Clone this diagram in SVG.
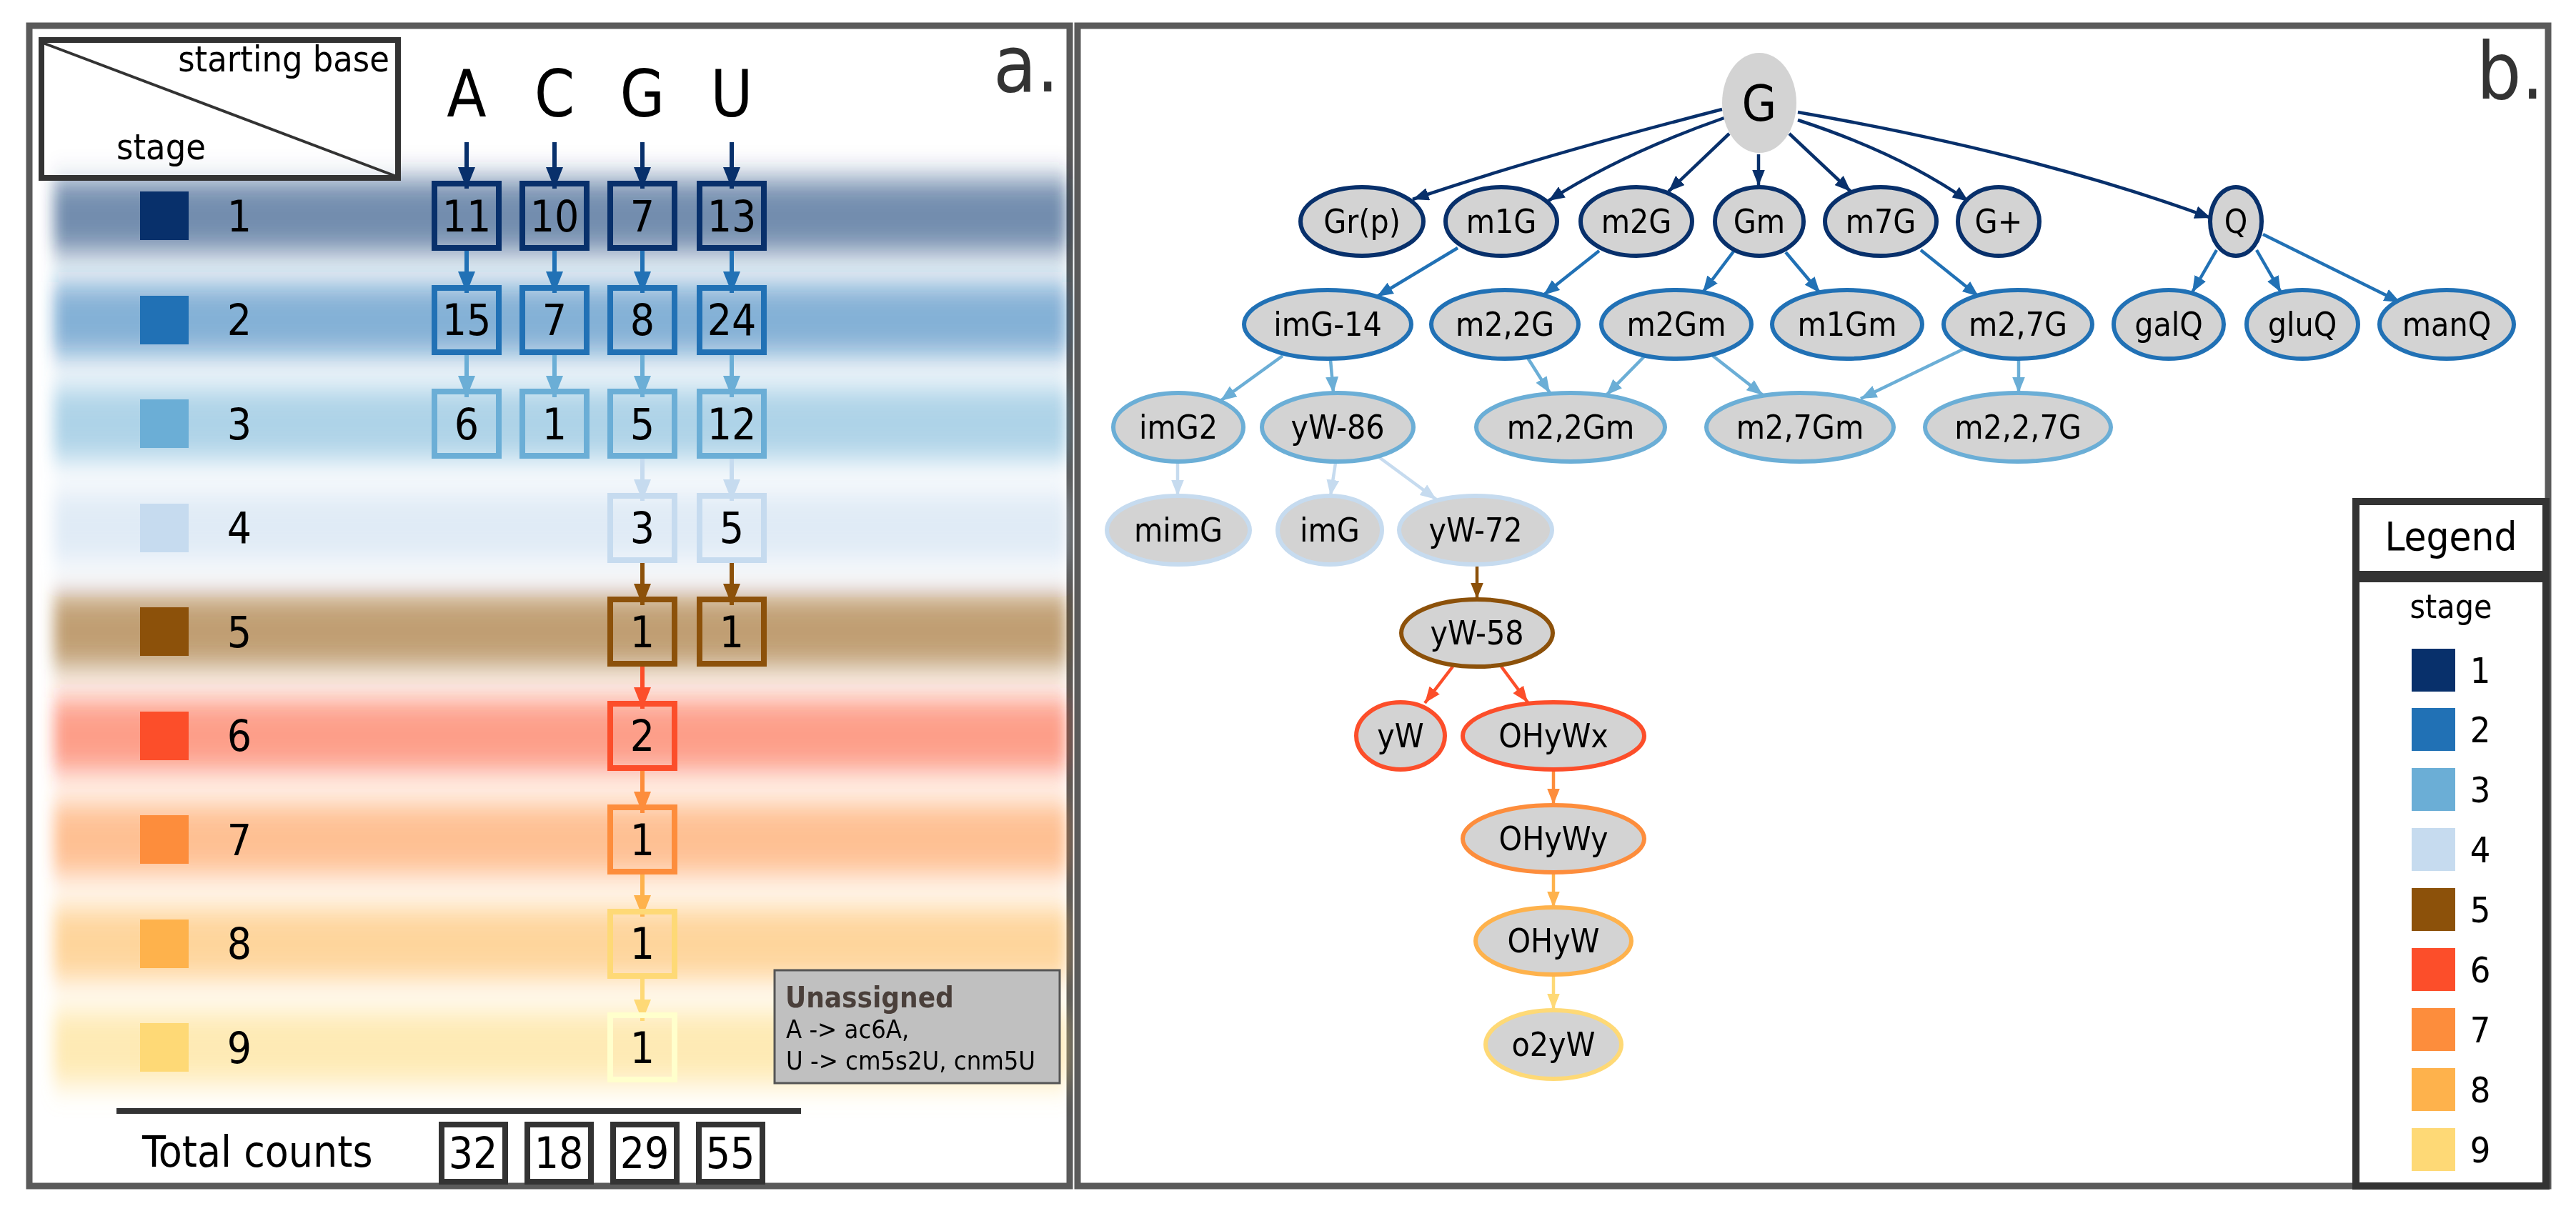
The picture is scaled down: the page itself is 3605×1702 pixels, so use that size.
<svg xmlns="http://www.w3.org/2000/svg" width="3605" height="1702" viewBox="0 0 3605 1702">
<style>
text{font-family:"DejaVu Sans Condensed","DejaVu Sans",sans-serif;font-stretch:condensed;fill:#000}
.frame{fill:#fff;stroke:#5a5a5a;stroke-width:9}
.box{fill:none;stroke-width:8}
.num{font-size:60px;text-anchor:middle}
.lab{font-size:46px;text-anchor:middle}
.nd{fill:#d3d3d3;stroke-width:6}
.ea{fill:none;stroke-width:6}
.eb{fill:none;stroke-width:4.5}
.s1{stroke:#08306b}.s2{stroke:#2171b5}.s3{stroke:#6baed6}.s4{stroke:#c6dbef}.s5{stroke:#8c510a}.s6{stroke:#fc4e2a}.s7{stroke:#fd8d3c}.s8{stroke:#feb24c}.s9{stroke:#fed976}
.m1{marker-end:url(#m1)}.m2{marker-end:url(#m2)}.m3{marker-end:url(#m3)}.m4{marker-end:url(#m4)}.m5{marker-end:url(#m5)}.m6{marker-end:url(#m6)}.m7{marker-end:url(#m7)}.m8{marker-end:url(#m8)}.m9{marker-end:url(#m9)}
</style>
<defs>
<filter id="blur" x="-5%" y="-100%" width="110%" height="300%"><feGaussianBlur stdDeviation="10 20"/></filter>
<marker id="m1" viewBox="0 0 10 8" markerWidth="5" markerHeight="4" refX="10" refY="4" orient="auto"><path d="M0,0L10,4L0,8z" fill="#08306b"/></marker>
<marker id="m2" viewBox="0 0 10 8" markerWidth="5" markerHeight="4" refX="10" refY="4" orient="auto"><path d="M0,0L10,4L0,8z" fill="#2171b5"/></marker>
<marker id="m3" viewBox="0 0 10 8" markerWidth="5" markerHeight="4" refX="10" refY="4" orient="auto"><path d="M0,0L10,4L0,8z" fill="#6baed6"/></marker>
<marker id="m4" viewBox="0 0 10 8" markerWidth="5" markerHeight="4" refX="10" refY="4" orient="auto"><path d="M0,0L10,4L0,8z" fill="#c6dbef"/></marker>
<marker id="m5" viewBox="0 0 10 8" markerWidth="5" markerHeight="4" refX="10" refY="4" orient="auto"><path d="M0,0L10,4L0,8z" fill="#8c510a"/></marker>
<marker id="m6" viewBox="0 0 10 8" markerWidth="5" markerHeight="4" refX="10" refY="4" orient="auto"><path d="M0,0L10,4L0,8z" fill="#fc4e2a"/></marker>
<marker id="m7" viewBox="0 0 10 8" markerWidth="5" markerHeight="4" refX="10" refY="4" orient="auto"><path d="M0,0L10,4L0,8z" fill="#fd8d3c"/></marker>
<marker id="m8" viewBox="0 0 10 8" markerWidth="5" markerHeight="4" refX="10" refY="4" orient="auto"><path d="M0,0L10,4L0,8z" fill="#feb24c"/></marker>
<marker id="m9" viewBox="0 0 10 8" markerWidth="5" markerHeight="4" refX="10" refY="4" orient="auto"><path d="M0,0L10,4L0,8z" fill="#fed976"/></marker>
</defs>
<rect width="3605" height="1702" fill="#fff"/>

<!-- Panel a -->
<g id="panel-a">
<rect class="frame" x="41" y="36" width="1456" height="1624"/>
<g id="bands" filter="url(#blur)">
<rect x="75" y="250" width="1418" height="105" fill="#08306b" opacity="0.55"/>
<rect x="75" y="395" width="1418" height="105" fill="#2171b5" opacity="0.55"/>
<rect x="75" y="540" width="1418" height="105" fill="#6baed6" opacity="0.55"/>
<rect x="75" y="685" width="1418" height="105" fill="#c6dbef" opacity="0.55"/>
<rect x="75" y="831" width="1418" height="105" fill="#8c510a" opacity="0.55"/>
<rect x="75" y="977" width="1418" height="105" fill="#fc4e2a" opacity="0.55"/>
<rect x="75" y="1122" width="1418" height="105" fill="#fd8d3c" opacity="0.55"/>
<rect x="75" y="1268" width="1418" height="105" fill="#feb24c" opacity="0.55"/>
<rect x="75" y="1413" width="1418" height="105" fill="#fed976" opacity="0.55"/>
</g>
<g id="header">
<rect x="58" y="56" width="499" height="193" fill="#fff" fill-opacity="0.6" stroke="#333" stroke-width="8"/>
<line x1="60" y1="60" x2="555" y2="247" stroke="#333" stroke-width="4"/>
<text x="545" y="100" font-size="50" text-anchor="end">starting base</text>
<text x="163" y="223" font-size="50">stage</text>
</g>
<text x="1482" y="128" font-size="110" text-anchor="end" style="fill:#333">a.</text>
<g id="colhead" font-size="90">
<text x="653" y="163" font-size="90" text-anchor="middle">A</text>
<text x="776" y="163" font-size="90" text-anchor="middle">C</text>
<text x="899" y="163" font-size="90" text-anchor="middle">G</text>
<text x="1024" y="163" font-size="90" text-anchor="middle">U</text>
</g>
<g id="stage-key">
<rect x="196" y="268" width="68" height="68" fill="#08306b"/><text class="num" x="335" y="324">1</text>
<rect x="196" y="414" width="68" height="68" fill="#2171b5"/><text class="num" x="335" y="469">2</text>
<rect x="196" y="559" width="68" height="68" fill="#6baed6"/><text class="num" x="335" y="615">3</text>
<rect x="196" y="705" width="68" height="68" fill="#c6dbef"/><text class="num" x="335" y="760">4</text>
<rect x="196" y="850" width="68" height="68" fill="#8c510a"/><text class="num" x="335" y="906">5</text>
<rect x="196" y="996" width="68" height="68" fill="#fc4e2a"/><text class="num" x="335" y="1051">6</text>
<rect x="196" y="1141" width="68" height="68" fill="#fd8d3c"/><text class="num" x="335" y="1197">7</text>
<rect x="196" y="1287" width="68" height="68" fill="#feb24c"/><text class="num" x="335" y="1342">8</text>
<rect x="196" y="1432" width="68" height="68" fill="#fed976"/><text class="num" x="335" y="1488">9</text>
</g>
<g id="connectors-a">
<line class="ea s1 m1" x1="653" y1="199" x2="653" y2="264"/>
<line class="ea s1 m1" x1="776" y1="199" x2="776" y2="264"/>
<line class="ea s1 m1" x1="899" y1="199" x2="899" y2="264"/>
<line class="ea s1 m1" x1="1024" y1="199" x2="1024" y2="264"/>
<line class="ea s2 m2" x1="653" y1="350" x2="653" y2="410"/>
<line class="ea s2 m2" x1="776" y1="350" x2="776" y2="410"/>
<line class="ea s2 m2" x1="899" y1="350" x2="899" y2="410"/>
<line class="ea s2 m2" x1="1024" y1="350" x2="1024" y2="410"/>
<line class="ea s3 m3" x1="653" y1="496" x2="653" y2="556"/>
<line class="ea s3 m3" x1="776" y1="496" x2="776" y2="556"/>
<line class="ea s3 m3" x1="899" y1="496" x2="899" y2="556"/>
<line class="ea s3 m3" x1="1024" y1="496" x2="1024" y2="556"/>
<line class="ea s4 m4" x1="899" y1="641" x2="899" y2="701"/>
<line class="ea s4 m4" x1="1024" y1="641" x2="1024" y2="701"/>
<line class="ea s5 m5" x1="899" y1="787" x2="899" y2="847"/>
<line class="ea s5 m5" x1="1024" y1="787" x2="1024" y2="847"/>
<line class="ea s6 m6" x1="899" y1="932" x2="899" y2="992"/>
<line class="ea s7 m7" x1="899" y1="1078" x2="899" y2="1138"/>
<line class="ea s8 m8" x1="899" y1="1223" x2="899" y2="1283"/>
<line class="ea s9 m9" x1="899" y1="1369" x2="899" y2="1429"/>
</g>
<g id="counts">
<g id="A1"><rect class="box s1" x="608" y="257" width="90" height="90"/><text class="num" x="653" y="324">11</text></g>
<g id="C1"><rect class="box s1" x="731" y="257" width="90" height="90"/><text class="num" x="776" y="324">10</text></g>
<g id="G1"><rect class="box s1" x="854" y="257" width="90" height="90"/><text class="num" x="899" y="324">7</text></g>
<g id="U1"><rect class="box s1" x="979" y="257" width="90" height="90"/><text class="num" x="1024" y="324">13</text></g>
<g id="A2"><rect class="box s2" x="608" y="403" width="90" height="90"/><text class="num" x="653" y="469">15</text></g>
<g id="C2"><rect class="box s2" x="731" y="403" width="90" height="90"/><text class="num" x="776" y="469">7</text></g>
<g id="G2"><rect class="box s2" x="854" y="403" width="90" height="90"/><text class="num" x="899" y="469">8</text></g>
<g id="U2"><rect class="box s2" x="979" y="403" width="90" height="90"/><text class="num" x="1024" y="469">24</text></g>
<g id="A3"><rect class="box s3" x="608" y="548" width="90" height="90"/><text class="num" x="653" y="615">6</text></g>
<g id="C3"><rect class="box s3" x="731" y="548" width="90" height="90"/><text class="num" x="776" y="615">1</text></g>
<g id="G3"><rect class="box s3" x="854" y="548" width="90" height="90"/><text class="num" x="899" y="615">5</text></g>
<g id="U3"><rect class="box s3" x="979" y="548" width="90" height="90"/><text class="num" x="1024" y="615">12</text></g>
<g id="G4"><rect class="box s4" x="854" y="694" width="90" height="90"/><text class="num" x="899" y="760">3</text></g>
<g id="U4"><rect class="box s4" x="979" y="694" width="90" height="90"/><text class="num" x="1024" y="760">5</text></g>
<g id="G5"><rect class="box s5" x="854" y="839" width="90" height="90"/><text class="num" x="899" y="906">1</text></g>
<g id="U5"><rect class="box s5" x="979" y="839" width="90" height="90"/><text class="num" x="1024" y="906">1</text></g>
<g id="G6"><rect class="box s6" x="854" y="985" width="90" height="90"/><text class="num" x="899" y="1051">2</text></g>
<g id="G7"><rect class="box s7" x="854" y="1130" width="90" height="90"/><text class="num" x="899" y="1197">1</text></g>
<g id="G8"><rect class="box" style="stroke:#fed976" x="854" y="1276" width="90" height="90"/><text class="num" x="899" y="1342">1</text></g>
<g id="G9"><rect class="box" style="stroke:#ffffcc" x="854" y="1421" width="90" height="90"/><text class="num" x="899" y="1488">1</text></g>
</g>
<g id="unassigned">
<rect x="1084" y="1358" width="399" height="158" fill="#c0c0c0" stroke="#555" stroke-width="3"/>
<text x="1099" y="1410" font-size="40" font-weight="bold" style="fill:#4a3f3a">Unassigned</text>
<text x="1100" y="1453" font-size="36">A -&gt; ac6A,</text>
<text x="1100" y="1497" font-size="36">U -&gt; cm5s2U, cnm5U</text>
</g>
<g id="totals">
<line x1="163" y1="1555" x2="1121" y2="1555" stroke="#333" stroke-width="8"/>
<text x="199" y="1633" font-size="60">Total counts</text>
<rect class="box" stroke="#333" x="618" y="1574" width="89" height="80"/><text class="num" x="662" y="1635">32</text>
<rect class="box" stroke="#333" x="738" y="1574" width="89" height="80"/><text class="num" x="782" y="1635">18</text>
<rect class="box" stroke="#333" x="858" y="1574" width="89" height="80"/><text class="num" x="902" y="1635">29</text>
<rect class="box" stroke="#333" x="978" y="1574" width="89" height="80"/><text class="num" x="1022" y="1635">55</text>
</g>
</g>

<!-- Panel b -->
<g id="panel-b">
<rect class="frame" x="1508" y="36" width="2058" height="1624"/>
<text x="3560" y="138" font-size="110" text-anchor="end" style="fill:#333">b.</text>
</g>
<g id="connectors">
<path class="eb s1 m1" d="M2410,153 Q2150,220 1977,279"/>
<path class="eb s1 m1" d="M2413,165 Q2270,215 2167,281"/>
<path class="eb s1 m1" d="M2420,187 L2335,268"/>
<path class="eb s1 m1" d="M2461,216 L2461,260"/>
<path class="eb s1 m1" d="M2504,187 L2590,268"/>
<path class="eb s1 m1" d="M2516,168 Q2660,215 2755,282"/>
<path class="eb s1 m1" d="M2516,157 Q2850,215 3094,305"/>
<line class="eb s2 m2" x1="2040" y1="347" x2="1927" y2="415"/>
<line class="eb s2 m2" x1="2238" y1="351" x2="2160" y2="413"/>
<line class="eb s2 m2" x1="2426" y1="352" x2="2383" y2="409"/>
<line class="eb s2 m2" x1="2499" y1="353" x2="2547" y2="410"/>
<line class="eb s2 m2" x1="2688" y1="350" x2="2769" y2="415"/>
<line class="eb s2 m2" x1="3102" y1="350" x2="3068" y2="409"/>
<line class="eb s2 m2" x1="3158" y1="350" x2="3192" y2="409"/>
<line class="eb s2 m2" x1="3167" y1="328" x2="3359" y2="423"/>
<line class="eb s3 m3" x1="1795" y1="498" x2="1708" y2="561"/>
<line class="eb s3 m3" x1="1862" y1="504" x2="1866" y2="550"/>
<line class="eb s3 m3" x1="2138" y1="501" x2="2169" y2="550"/>
<line class="eb s3 m3" x1="2302" y1="498" x2="2248" y2="553"/>
<line class="eb s3 m3" x1="2397" y1="498" x2="2467" y2="553"/>
<line class="eb s3 m3" x1="2749" y1="488" x2="2604" y2="558"/>
<line class="eb s3 m3" x1="2825" y1="504" x2="2825" y2="550"/>
<line class="eb s4 m4" x1="1648" y1="648" x2="1648" y2="694"/>
<line class="eb s4 m4" x1="1869" y1="648" x2="1862" y2="694"/>
<line class="eb s4 m4" x1="1930" y1="640" x2="2010" y2="699"/>
<line class="eb s5 m5" x1="2067" y1="792" x2="2067" y2="838"/>
<line class="eb s6 m6" x1="2033" y1="933" x2="1994" y2="984"/>
<line class="eb s6 m6" x1="2101" y1="933" x2="2138" y2="983"/>
<line class="eb s7 m7" x1="2174" y1="1080" x2="2174" y2="1126"/>
<line class="eb s8 m8" x1="2174" y1="1223" x2="2174" y2="1270"/>
<line class="eb s9 m9" x1="2174" y1="1366" x2="2174" y2="1413"/>
</g>
<g id="nodes">
<g id="n-G"><ellipse cx="2462" cy="144" rx="52" ry="70" fill="#d3d3d3"/><text x="2462" y="169" font-size="70" text-anchor="middle">G</text></g>
<g id="n-Grp"><ellipse class="nd s1" cx="1906" cy="310" rx="86" ry="48"/><text class="lab" x="1906" y="326">Gr(p)</text></g>
<g id="n-m1G"><ellipse class="nd s1" cx="2101" cy="310" rx="78" ry="48"/><text class="lab" x="2101" y="326">m1G</text></g>
<g id="n-m2G"><ellipse class="nd s1" cx="2290" cy="310" rx="78" ry="48"/><text class="lab" x="2290" y="326">m2G</text></g>
<g id="n-Gm"><ellipse class="nd s1" cx="2462" cy="310" rx="62" ry="48"/><text class="lab" x="2462" y="326">Gm</text></g>
<g id="n-m7G"><ellipse class="nd s1" cx="2632" cy="310" rx="78" ry="48"/><text class="lab" x="2632" y="326">m7G</text></g>
<g id="n-Gplus"><ellipse class="nd s1" cx="2797" cy="310" rx="57" ry="48"/><text class="lab" x="2797" y="326">G+</text></g>
<g id="n-Q"><ellipse class="nd s1" cx="3129" cy="310" rx="36" ry="48"/><text class="lab" x="3129" y="326">Q</text></g>
<g id="n-imG14"><ellipse class="nd s2" cx="1858" cy="454" rx="117" ry="48"/><text class="lab" x="1858" y="470">imG-14</text></g>
<g id="n-m22G"><ellipse class="nd s2" cx="2106" cy="454" rx="103" ry="48"/><text class="lab" x="2106" y="470">m2,2G</text></g>
<g id="n-m2Gm"><ellipse class="nd s2" cx="2346" cy="454" rx="105" ry="48"/><text class="lab" x="2346" y="470">m2Gm</text></g>
<g id="n-m1Gm"><ellipse class="nd s2" cx="2585" cy="454" rx="105" ry="48"/><text class="lab" x="2585" y="470">m1Gm</text></g>
<g id="n-m27G"><ellipse class="nd s2" cx="2824" cy="454" rx="104" ry="48"/><text class="lab" x="2824" y="470">m2,7G</text></g>
<g id="n-galQ"><ellipse class="nd s2" cx="3035" cy="454" rx="77" ry="48"/><text class="lab" x="3035" y="470">galQ</text></g>
<g id="n-gluQ"><ellipse class="nd s2" cx="3222" cy="454" rx="78" ry="48"/><text class="lab" x="3222" y="470">gluQ</text></g>
<g id="n-manQ"><ellipse class="nd s2" cx="3424" cy="454" rx="94" ry="48"/><text class="lab" x="3424" y="470">manQ</text></g>
<g id="n-imG2"><ellipse class="nd s3" cx="1649" cy="598" rx="91" ry="48"/><text class="lab" x="1649" y="614">imG2</text></g>
<g id="n-yW86"><ellipse class="nd s3" cx="1872" cy="598" rx="106" ry="48"/><text class="lab" x="1872" y="614">yW-86</text></g>
<g id="n-m22Gm"><ellipse class="nd s3" cx="2198" cy="598" rx="132" ry="48"/><text class="lab" x="2198" y="614">m2,2Gm</text></g>
<g id="n-m27Gm"><ellipse class="nd s3" cx="2519" cy="598" rx="131" ry="48"/><text class="lab" x="2519" y="614">m2,7Gm</text></g>
<g id="n-m227G"><ellipse class="nd s3" cx="2824" cy="598" rx="130" ry="48"/><text class="lab" x="2824" y="614">m2,2,7G</text></g>
<g id="n-mimG"><ellipse class="nd s4" cx="1649" cy="742" rx="100" ry="48"/><text class="lab" x="1649" y="758">mimG</text></g>
<g id="n-imG"><ellipse class="nd s4" cx="1861" cy="742" rx="73" ry="48"/><text class="lab" x="1861" y="758">imG</text></g>
<g id="n-yW72"><ellipse class="nd s4" cx="2065" cy="742" rx="107" ry="48"/><text class="lab" x="2065" y="758">yW-72</text></g>
<g id="n-yW58"><ellipse class="nd s5" cx="2067" cy="886" rx="106" ry="47"/><text class="lab" x="2067" y="902">yW-58</text></g>
<g id="n-yW"><ellipse class="nd s6" cx="1960" cy="1030" rx="62" ry="47"/><text class="lab" x="1960" y="1046">yW</text></g>
<g id="n-OHyWx"><ellipse class="nd s6" cx="2174" cy="1030" rx="127" ry="47"/><text class="lab" x="2174" y="1046">OHyWx</text></g>
<g id="n-OHyWy"><ellipse class="nd s7" cx="2174" cy="1174" rx="127" ry="47"/><text class="lab" x="2174" y="1190">OHyWy</text></g>
<g id="n-OHyW"><ellipse class="nd s8" cx="2174" cy="1317" rx="109" ry="47"/><text class="lab" x="2174" y="1333">OHyW</text></g>
<g id="n-o2yW"><ellipse class="nd s9" cx="2174" cy="1462" rx="95" ry="48"/><text class="lab" x="2174" y="1478">o2yW</text></g>
</g>
<g id="legend">
<rect x="3297" y="702" width="266" height="102" fill="#fff" stroke="#333" stroke-width="10"/>
<text x="3430" y="770" font-size="56" text-anchor="middle">Legend</text>
<rect x="3297" y="810" width="266" height="850" fill="#fff" stroke="#333" stroke-width="10"/>
<text x="3430" y="865" font-size="46" text-anchor="middle">stage</text>
<rect x="3375" y="908" width="61" height="60" fill="#08306b"/><text x="3471" y="956" font-size="50" text-anchor="middle">1</text>
<rect x="3375" y="991" width="61" height="60" fill="#2171b5"/><text x="3471" y="1039" font-size="50" text-anchor="middle">2</text>
<rect x="3375" y="1075" width="61" height="60" fill="#6baed6"/><text x="3471" y="1123" font-size="50" text-anchor="middle">3</text>
<rect x="3375" y="1159" width="61" height="60" fill="#c6dbef"/><text x="3471" y="1207" font-size="50" text-anchor="middle">4</text>
<rect x="3375" y="1243" width="61" height="60" fill="#8c510a"/><text x="3471" y="1291" font-size="50" text-anchor="middle">5</text>
<rect x="3375" y="1327" width="61" height="60" fill="#fc4e2a"/><text x="3471" y="1375" font-size="50" text-anchor="middle">6</text>
<rect x="3375" y="1411" width="61" height="60" fill="#fd8d3c"/><text x="3471" y="1459" font-size="50" text-anchor="middle">7</text>
<rect x="3375" y="1495" width="61" height="60" fill="#feb24c"/><text x="3471" y="1543" font-size="50" text-anchor="middle">8</text>
<rect x="3375" y="1579" width="61" height="60" fill="#fed976"/><text x="3471" y="1627" font-size="50" text-anchor="middle">9</text>
</g>
</svg>
